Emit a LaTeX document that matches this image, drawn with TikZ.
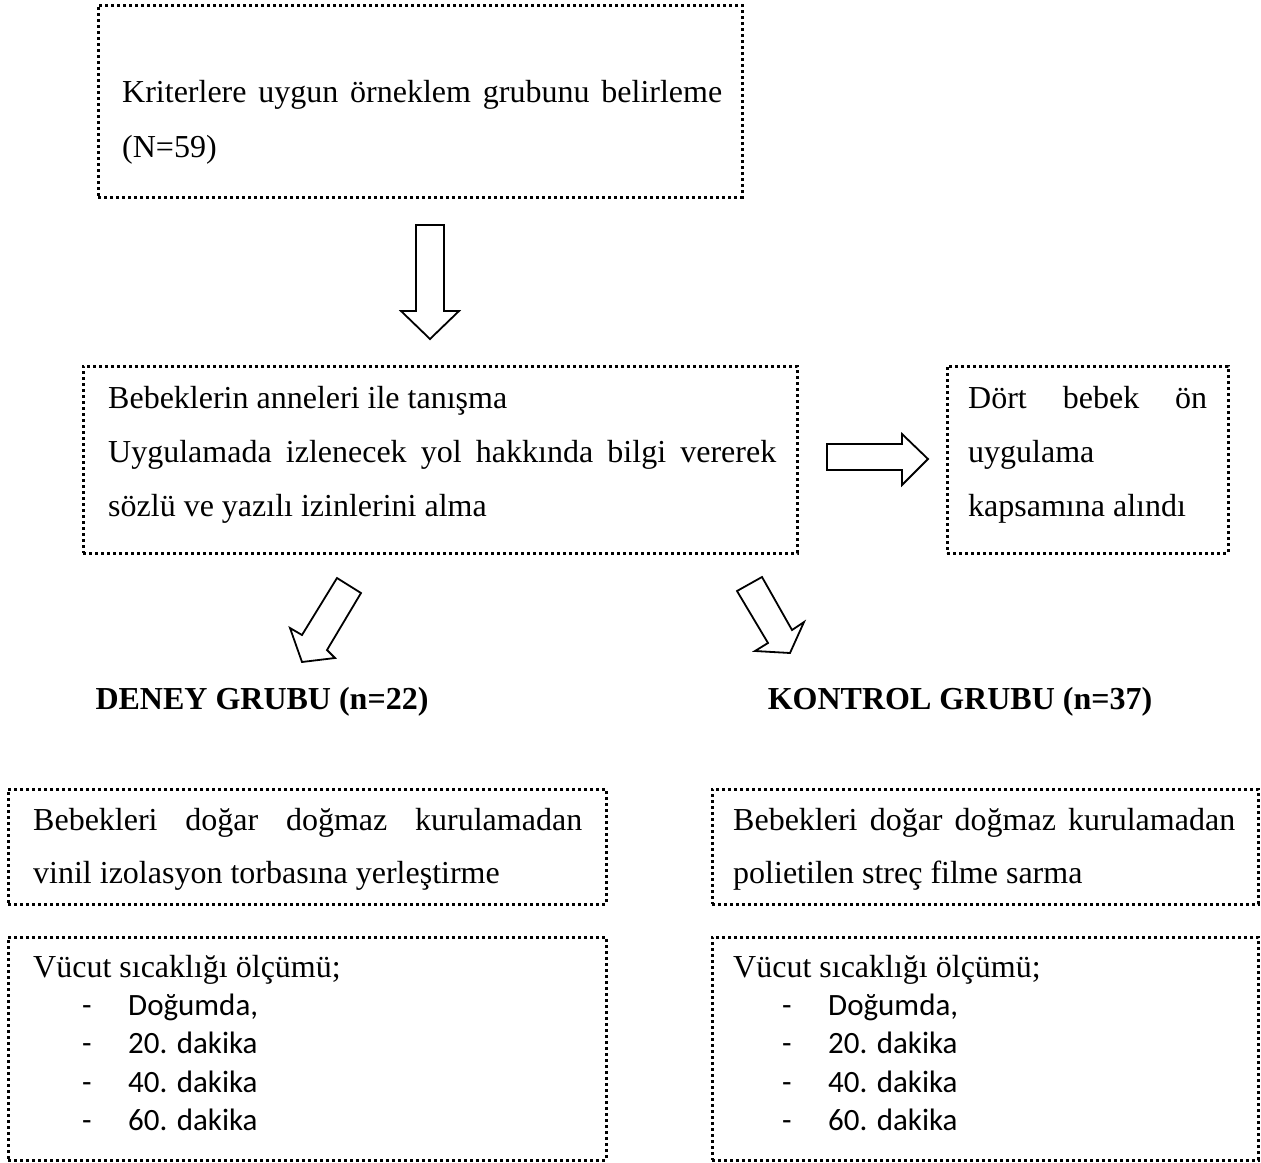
\documentclass[tikz,border=0pt]{standalone}
\usepackage{fontspec}
\setmainfont{Liberation Serif}
\newfontfamily\calibrifont{Carlito}
\begin{document}
\begin{tikzpicture}[x=1pt,y=-1pt,
  dotbox/.style={draw, line width=3pt, dash pattern=on 3pt off 3pt, inner sep=0pt, outer sep=0pt, anchor=north west},
  txt/.style={inner sep=0pt, anchor=base west, font=\fontsize{32}{40}\selectfont},
  hd/.style={inner sep=0pt, anchor=base, font=\fontsize{32}{40}\selectfont\bfseries},
  item/.style={inner sep=0pt, anchor=base west, font=\calibrifont\fontsize{31}{36}\selectfont},
  blk/.style={draw, line width=1.8pt, fill=white, line join=miter}]
\useasboundingbox (0,0) rectangle (1261,1162);

% boxes
\node[dotbox, minimum width=644pt, minimum height=192pt] (kriter) at (98,5) {};
\node[dotbox, minimum width=714pt, minimum height=187pt] (tanis) at (83,366) {};
\node[dotbox, minimum width=281pt, minimum height=187pt] (dort) at (947,366) {};
\node[dotbox, minimum width=598pt, minimum height=115pt] (deneyA) at (8,789) {};
\node[dotbox, minimum width=546pt, minimum height=115pt] (kontA) at (712,789) {};
\node[dotbox, minimum width=598pt, minimum height=223pt] (deneyB) at (8,937) {};
\node[dotbox, minimum width=546pt, minimum height=223pt] (kontB) at (712,937) {};

% block arrows
\draw[blk] (416,225) -- (444,225) -- (444,311) -- (459,311) -- (430,339) -- (401,311) -- (416,311) -- cycle;
\draw[blk] (827,444) -- (902,444) -- (902,434) -- (928,459) -- (902,485) -- (902,470) -- (827,470) -- cycle;
\draw[blk] (337,578) -- (361,593) -- (327,650) -- (335,658) -- (302,662) -- (290,628) -- (302,635) -- cycle;
\draw[blk] (762,577) -- (737,591) -- (768,643) -- (755,651) -- (790,653) -- (804,622) -- (792,630) -- cycle;

% texts
\node[txt] (k1) at (122,102) {\makebox[600pt][s]{Kriterlere uygun örneklem grubunu belirleme}};
\node[txt] (k2) at (122,157) {(N=59)};

\node[txt] (t1) at (108,408) {Bebeklerin anneleri ile tanışma};
\node[txt] (t2) at (108,462) {\makebox[668pt][s]{Uygulamada izlenecek yol hakkında bilgi vererek}};
\node[txt] (t3) at (108,516) {sözlü ve yazılı izinlerini alma};

\node[txt] (d1) at (968,408) {\makebox[239pt][s]{Dört bebek ön}};
\node[txt] (d2) at (968,462) {uygulama};
\node[txt] (d3) at (968,516) {kapsamına alındı};

\node[hd] (deneyL) at (262,709) {DENEY GRUBU (n=22)};
\node[hd] (kontL) at (960,709) {KONTROL GRUBU (n=37)};

\node[txt] (a1) at (33,830) {\makebox[549pt][s]{Bebekleri doğar doğmaz kurulamadan}};
\node[txt] (a2) at (33,883) {vinil izolasyon torbasına yerleştirme};
\node[txt] (b1) at (733,830) {\makebox[502pt][s]{Bebekleri doğar doğmaz kurulamadan}};
\node[txt] (b2) at (733,883) {polietilen streç filme sarma};

\node[txt] (v1) at (33,977) {Vücut sıcaklığı ölçümü;};
\node[txt] (v2) at (733,977) {Vücut sıcaklığı ölçümü;};
\foreach \y/\t [count=\i] in {1015/{Doğumda,},1053/{20. dakika},1092/{40. dakika},1130/{60. dakika}}{
  \node[item] (ld\i) at (82,\y) {-};
  \node[item] (li\i) at (128,\y) {\t};
  \node[item] (rd\i) at (782,\y) {-};
  \node[item] (ri\i) at (828,\y) {\t};
}
\end{tikzpicture}
\end{document}
